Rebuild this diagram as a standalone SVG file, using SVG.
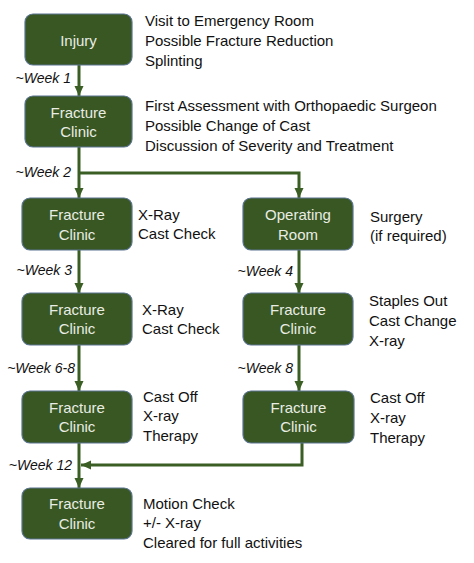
<svg xmlns="http://www.w3.org/2000/svg" width="474" height="563" viewBox="0 0 474 563">
<style>
.box{fill:#385723;stroke:#5a7390;stroke-width:1.2}
.bt{font-family:"Liberation Sans",Arial,sans-serif;font-size:15px;fill:#e9ede4;text-anchor:middle}
.dt{font-family:"Liberation Sans",Arial,sans-serif;font-size:15px;fill:#111}
.wk{font-family:"Liberation Sans",Arial,sans-serif;font-size:14px;font-style:italic;fill:#111;text-anchor:end}
.ln{fill:none;stroke:#3b5e24;stroke-width:3}
</style>
<defs>
<marker id="ah" viewBox="0 0 10 10" refX="10" refY="5" markerWidth="10" markerHeight="10" markerUnits="userSpaceOnUse" orient="auto">
<path d="M0,0.5 L10,5 L0,9.5 Z" fill="#3b5e24"/>
</marker>
</defs>
<rect width="474" height="563" fill="#fff"/>
<g id="connectors">
<path class="ln" d="M79,65 V96" marker-end="url(#ah)"/>
<path class="ln" d="M79,147 V198" marker-end="url(#ah)"/>
<path class="ln" d="M79,173 H299 V198" marker-end="url(#ah)"/>
<path class="ln" d="M79,250 V293" marker-end="url(#ah)"/>
<path class="ln" d="M299,250 V293" marker-end="url(#ah)"/>
<path class="ln" d="M79,345 V391" marker-end="url(#ah)"/>
<path class="ln" d="M299,345 V391" marker-end="url(#ah)"/>
<path class="ln" d="M79,443 V488" marker-end="url(#ah)"/>
<path class="ln" d="M302,443 V465 H81" marker-end="url(#ah)"/>
<text class="wk" x="71" y="83">~Week 1</text>
<text class="wk" x="71" y="177">~Week 2</text>
<text class="wk" x="72" y="275">~Week 3</text>
<text class="wk" x="293" y="276">~Week 4</text>
<text class="wk" x="75" y="373">~Week 6-8</text>
<text class="wk" x="293" y="373">~Week 8</text>
<text class="wk" x="72" y="470">~Week 12</text>
</g>
<g id="injury">
<rect class="box" x="25" y="14" width="107" height="51" rx="8"/>
<text class="bt" x="78.5" y="46">Injury</text>
<text class="dt" x="145" y="26">Visit to Emergency Room</text>
<text class="dt" x="145" y="46">Possible Fracture Reduction</text>
<text class="dt" x="145" y="66">Splinting</text>
</g>
<g id="clinic1">
<rect class="box" x="25" y="96" width="107" height="51" rx="8"/>
<text class="bt" x="78.5" y="118">Fracture</text>
<text class="bt" x="78.5" y="137">Clinic</text>
<text class="dt" x="145" y="111">First Assessment with Orthopaedic Surgeon</text>
<text class="dt" x="145" y="131">Possible Change of Cast</text>
<text class="dt" x="145" y="151">Discussion of Severity and Treatment</text>
</g>
<g id="clinic2">
<rect class="box" x="22" y="198" width="110" height="52" rx="8"/>
<text class="bt" x="77" y="220">Fracture</text>
<text class="bt" x="77" y="240">Clinic</text>
<text class="dt" x="138" y="220">X-Ray</text>
<text class="dt" x="138" y="239">Cast Check</text>
</g>
<g id="operating">
<rect class="box" x="243" y="198" width="110" height="52" rx="8"/>
<text class="bt" x="298" y="220">Operating</text>
<text class="bt" x="298" y="240">Room</text>
<text class="dt" x="370" y="222">Surgery</text>
<text class="dt" x="370" y="241">(if required)</text>
</g>
<g id="clinic3">
<rect class="box" x="22" y="293" width="110" height="52" rx="8"/>
<text class="bt" x="77" y="315">Fracture</text>
<text class="bt" x="77" y="334">Clinic</text>
<text class="dt" x="142" y="315">X-Ray</text>
<text class="dt" x="142" y="334">Cast Check</text>
</g>
<g id="clinic4">
<rect class="box" x="243" y="293" width="110" height="52" rx="8"/>
<text class="bt" x="298" y="315">Fracture</text>
<text class="bt" x="298" y="334">Clinic</text>
<text class="dt" x="369" y="306">Staples Out</text>
<text class="dt" x="369" y="326">Cast Change</text>
<text class="dt" x="369" y="346">X-ray</text>
</g>
<g id="clinic5">
<rect class="box" x="22" y="391" width="110" height="52" rx="8"/>
<text class="bt" x="77" y="413">Fracture</text>
<text class="bt" x="77" y="432">Clinic</text>
<text class="dt" x="143" y="402">Cast Off</text>
<text class="dt" x="143" y="421">X-ray</text>
<text class="dt" x="143" y="441">Therapy</text>
</g>
<g id="clinic6">
<rect class="box" x="243" y="391" width="111" height="52" rx="8"/>
<text class="bt" x="298.5" y="413">Fracture</text>
<text class="bt" x="298.5" y="432">Clinic</text>
<text class="dt" x="370" y="403">Cast Off</text>
<text class="dt" x="370" y="423">X-ray</text>
<text class="dt" x="370" y="443">Therapy</text>
</g>
<g id="clinic7">
<rect class="box" x="22" y="488" width="110" height="51" rx="8"/>
<text class="bt" x="77" y="509">Fracture</text>
<text class="bt" x="77" y="529">Clinic</text>
<text class="dt" x="143" y="509">Motion Check</text>
<text class="dt" x="143" y="528">+/- X-ray</text>
<text class="dt" x="143" y="548">Cleared for full activities</text>
</g>
</svg>
